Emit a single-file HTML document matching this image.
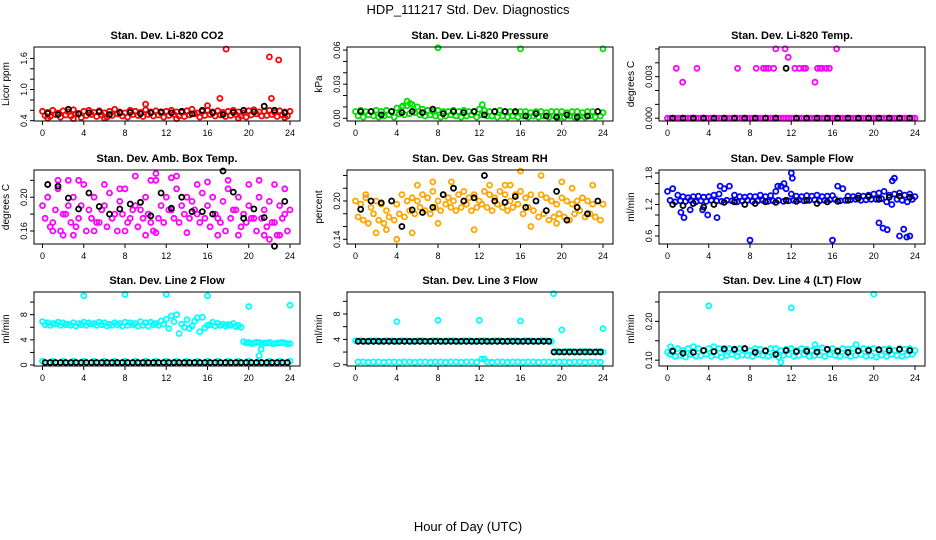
<!DOCTYPE html>
<html><head><meta charset="utf-8"><style>
body{margin:0;background:#fff}
svg{display:block;font-family:"Liberation Sans",sans-serif}
</style></head><body>
<svg id="c" width="936" height="540" viewBox="0 0 936 540">
<text x="468" y="14" text-anchor="middle" font-size="13">HDP_111217  Std. Dev. Diagnostics</text>
<text x="468" y="531" text-anchor="middle" font-size="13">Hour of Day (UTC)</text>
</svg>
<script>
// ---- data ----
const xTicks=[0,4,8,12,16,20,24];
const titles=["Stan. Dev. Li-820 CO2","Stan. Dev. Li-820 Pressure","Stan. Dev. Li-820 Temp.","Stan. Dev. Amb. Box Temp.","Stan. Dev. Gas Stream RH","Stan. Dev. Sample Flow","Stan. Dev. Line 2 Flow","Stan. Dev. Line 3 Flow","Stan. Dev. Line 4 (LT) Flow"];
const yTitles=["Licor ppm","kPa","degrees C","degrees C","percent","ml/min","ml/min","ml/min","ml/min"];
const colors=["#ff0000","#00e000","#ff00ff","#ff00ff","#ffa500","#0000ff","#00ffff","#00ffff","#00ffff"];
const yRanges=[[0.394,1.82],[-0.0024,0.0627],[-0.0002,0.00514],[0.1446,0.2322],[0.1326,0.2486],[0.448,1.857],[-0.157,11.6],[-0.2,11.47],[0.085,0.2756]];
const yTickVals=[[0.4,0.6,0.8,1.0,1.2,1.4,1.6],[0,0.01,0.02,0.03,0.04,0.05,0.06],[0,0.001,0.002,0.003,0.004,0.005],[0.16,0.18,0.2,0.22],[0.14,0.16,0.18,0.2,0.22,0.24],[0.6,0.8,1.0,1.2,1.4,1.6,1.8],[0,2,4,6,8,10],[0,2,4,6,8,10],[0.1,0.15,0.2,0.25]];
const yTickLabels=[["0.4","","","1.0","","","1.6"],["0.00","","","0.03","","","0.06"],["0.000","","","0.003","",""],["0.16","","0.20",""],["0.14","","","0.20","",""],["0.6","","","1.2","","","1.8"],["0","","4","","8",""],["0","","4","","8",""],["0.10","","0.20",""]];
// colored series A (hours 0,0.5,...,24) and B (hours 0.25,0.75,...)
const serA=[
[0.58,0.56,0.6,0.55,0.59,0.57,0.61,0.54,0.58,0.6,0.56,0.59,0.55,0.58,0.62,0.57,0.55,0.6,0.58,0.56,0.61,0.57,0.59,0.55,0.58,0.6,0.57,0.56,0.59,0.62,0.55,0.58,0.6,0.57,0.59,0.56,0.58,0.6,0.57,0.55,0.59,0.61,0.57,0.58,0.6,0.56,0.59,0.57,0.58],
[0.006,0.007,0.006,0.006,0.007,0.006,0.007,0.006,0.009,0.01,0.011,0.012,0.01,0.008,0.007,0.006,0.007,0.006,0.006,0.007,0.006,0.007,0.006,0.006,0.008,0.007,0.006,0.006,0.007,0.006,0.006,0.005,0.006,0.006,0.005,0.006,0.006,0.005,0.006,0.006,0.006,0.005,0.006,0.006,0.005,0.006,0.006,0.006,0.005],
[0,0,0,0,0,0,0,0,0,0,0,0,0,0,0,0,0,0,0,0,0,0,0,0,0,0,0,0,0,0,0,0,0,0,0,0,0,0,0,0,0,0,0,0,0,0,0,0,0],
[0.19,0.2,0.17,0.21,0.18,0.19,0.2,0.175,0.215,0.185,0.2,0.17,0.19,0.205,0.18,0.195,0.21,0.175,0.19,0.185,0.2,0.17,0.22,0.19,0.2,0.185,0.21,0.19,0.2,0.195,0.18,0.205,0.19,0.2,0.175,0.195,0.21,0.185,0.2,0.18,0.19,0.175,0.2,0.185,0.195,0.17,0.19,0.18,0.185],
[0.2,0.195,0.205,0.19,0.2,0.195,0.185,0.2,0.195,0.21,0.2,0.205,0.2,0.21,0.205,0.215,0.2,0.21,0.205,0.2,0.21,0.215,0.205,0.21,0.2,0.215,0.21,0.205,0.215,0.21,0.2,0.21,0.215,0.205,0.21,0.2,0.21,0.205,0.2,0.195,0.205,0.2,0.195,0.2,0.205,0.2,0.195,0.2,0.195],
[1.45,1.5,1.38,1.35,1.33,1.35,1.36,1.34,1.35,1.38,1.4,1.5,1.55,1.38,1.35,1.34,1.36,1.35,1.38,1.35,1.37,1.45,1.55,1.5,1.4,1.36,1.35,1.37,1.36,1.38,1.35,1.36,1.37,1.55,1.5,1.36,1.35,1.37,1.36,1.38,1.4,1.42,1.45,1.38,1.4,1.42,1.38,1.4,1.35],
[6.9,6.7,6.6,6.8,6.7,6.5,6.7,6.6,6.8,6.7,6.6,6.8,6.7,6.5,6.7,6.6,6.8,6.7,6.6,6.9,6.7,6.8,6.6,7.0,7.3,7.8,8.0,6.5,7.2,6.2,7.5,7.6,6.3,6.8,6.6,6.5,6.4,6.6,6.3,3.7,3.6,3.5,3.6,3.5,3.6,3.4,3.5,3.5,3.4],
[3.8,3.8,3.7,3.8,3.8,3.7,3.8,3.8,3.7,3.8,3.8,3.7,3.8,3.8,3.7,3.8,3.8,3.7,3.8,3.8,3.7,3.8,3.8,3.7,3.8,3.8,3.7,3.8,3.8,3.7,3.8,3.8,3.7,3.8,3.8,3.7,3.8,3.8,3.7,2.1,2.0,2.1,2.1,2.0,2.1,2.1,2.0,2.1,2.0],
[0.12,0.125,0.13,0.125,0.13,0.135,0.13,0.125,0.13,0.135,0.13,0.125,0.13,0.125,0.13,0.128,0.125,0.13,0.128,0.125,0.13,0.13,0.125,0.128,0.13,0.125,0.13,0.128,0.125,0.13,0.132,0.128,0.13,0.125,0.13,0.128,0.13,0.125,0.13,0.128,0.13,0.125,0.128,0.13,0.125,0.13,0.128,0.13,0.125]];
const serB=[
[0.5,0.48,0.52,0.47,0.51,0.49,0.53,0.46,0.5,0.52,0.48,0.51,0.47,0.5,0.53,0.49,0.47,0.52,0.5,0.48,0.52,0.49,0.51,0.47,0.5,0.52,0.49,0.48,0.51,0.53,0.47,0.5,0.52,0.49,0.51,0.48,0.5,0.52,0.49,0.47,0.51,0.53,0.49,0.5,0.52,0.48,0.51,0.49],
[0.002,0.001,0.003,0.002,0.001,0.002,0.003,0.001,0.004,0.003,0.004,0.005,0.003,0.002,0.003,0.002,0.001,0.002,0.003,0.002,0.001,0.002,0.003,0.001,0.003,0.002,0.002,0.001,0.002,0.001,0.002,0.001,0.002,0.001,0.002,0.001,0.002,0.001,0.002,0.001,0.001,0.002,0.001,0.002,0.001,0.002,0.001,0.002],
[0,0,0,0,0,0,0,0,0,0,0,0,0,0,0,0,0,0,0,0,0,0,0,0,0,0,0,0,0,0,0,0,0,0,0,0,0,0,0,0,0,0,0,0,0,0,0,0],
[0.175,0.165,0.185,0.16,0.18,0.17,0.165,0.19,0.16,0.175,0.17,0.185,0.165,0.175,0.16,0.18,0.17,0.185,0.165,0.175,0.18,0.16,0.175,0.17,0.185,0.175,0.17,0.18,0.175,0.185,0.17,0.175,0.165,0.18,0.17,0.16,0.175,0.185,0.165,0.17,0.175,0.16,0.175,0.165,0.17,0.155,0.175,0.16],
[0.175,0.17,0.165,0.18,0.17,0.165,0.175,0.17,0.18,0.175,0.185,0.18,0.19,0.185,0.18,0.19,0.185,0.195,0.19,0.185,0.19,0.195,0.185,0.19,0.195,0.19,0.185,0.195,0.19,0.185,0.19,0.195,0.18,0.19,0.185,0.175,0.18,0.17,0.175,0.18,0.175,0.17,0.18,0.185,0.175,0.18,0.175,0.17],
[1.28,1.25,1.27,1.26,1.28,1.25,1.27,1.26,1.28,1.27,1.26,1.28,1.27,1.25,1.27,1.28,1.26,1.27,1.28,1.26,1.27,1.28,1.26,1.27,1.28,1.29,1.27,1.28,1.29,1.27,1.28,1.29,1.3,1.27,1.28,1.29,1.3,1.28,1.29,1.3,1.3,1.31,1.25,1.2,1.3,1.28,1.25,1.3],
[6.4,6.3,6.5,6.3,6.4,6.3,6.2,6.4,6.3,6.5,6.3,6.4,6.2,6.3,6.4,6.2,6.3,6.4,6.2,6.3,6.2,6.4,6.3,6.5,5.8,6.9,5.0,6.0,5.8,7.0,5.3,5.9,6.4,6.2,6.3,6.2,6.3,6.1,6.0,3.5,3.4,3.6,3.3,3.5,3.4,3.5,3.6,3.4],
[0.45,0.45,0.4,0.45,0.45,0.4,0.45,0.45,0.4,0.45,0.45,0.4,0.45,0.45,0.4,0.45,0.45,0.4,0.45,0.45,0.4,0.45,0.45,0.4,0.9,0.45,0.4,0.45,0.45,0.4,0.45,0.45,0.4,0.45,0.45,0.4,0.45,0.45,0.4,0.45,0.45,0.4,0.45,0.45,0.4,0.45,0.45,0.4],
[0.115,0.11,0.112,0.108,0.115,0.11,0.112,0.115,0.11,0.113,0.108,0.112,0.115,0.11,0.113,0.112,0.11,0.115,0.112,0.11,0.113,0.108,0.112,0.115,0.11,0.112,0.115,0.11,0.112,0.113,0.11,0.115,0.112,0.11,0.113,0.11,0.112,0.115,0.11,0.112,0.108,0.113,0.11,0.115,0.112,0.11,0.113,0.115]];
// extra colored points (outliers / line-2 low row)
const outX=[
[17.8,22,22.9,17.2,22.2,10,16,0.5,3,6,13,19,23.5],
[8,16,24,5,5.3,12.3,4.6],
[0.85,1.46,2.86,6.8,8.6,9.3,9.55,9.8,10.3,10.5,11.4,11.7,12.35,12.8,13.2,13.4,14.3,14.55,14.8,15.0,15.4,15.7,16.4],
[0.5,1.5,2.5,3.5,6,7.5,9,10.5,11,12.5,13,15,16,18,20,21,22.5,23.5,1,2,3,5,8,10,11,14,17,19,21.5,22,23],
[1,2,4,6,7.5,9.3,13,15,16,18,20,21,23,3,5.5,8,14.5,19.5,17,11.5],
[1.3,1.6,3.9,4.8,5.1,8,10.7,11.3,12,12.1,16,20.5,20.9,21.3,22.5,22.9,23.2,23.5,21.8,22,2.2,3.4],
[4,8,12,16,20,24,21,21.2,0,1,2,3,4,5,6,7,8,9,10,11,12,13,14,15,16,17,18,19,20,21,22,23,24],
[4,8,12,16,19.2,20,24,12.5],
[4,12,20,0.3,11,14.3,18.3]];
const outY=[
[1.78,1.63,1.57,0.83,0.83,0.72,0.69,0.45,0.44,0.45,0.44,0.45,0.46],
[0.062,0.061,0.061,0.015,0.013,0.012,0.011],
[0.0036,0.0026,0.0036,0.0036,0.0036,0.0036,0.0036,0.0036,0.0036,0.005,0.005,0.0044,0.0036,0.0036,0.0036,0.0036,0.0026,0.0036,0.0036,0.0036,0.0036,0.0036,0.005],
[0.215,0.22,0.22,0.22,0.215,0.21,0.225,0.22,0.228,0.223,0.225,0.215,0.218,0.22,0.215,0.22,0.215,0.21,0.16,0.155,0.155,0.16,0.16,0.155,0.158,0.158,0.155,0.155,0.155,0.15,0.155],
[0.21,0.15,0.14,0.225,0.23,0.23,0.225,0.225,0.247,0.24,0.23,0.22,0.225,0.155,0.15,0.165,0.225,0.165,0.16,0.155],
[1.05,0.95,1.0,0.95,1.55,0.52,1.55,1.6,1.8,1.7,0.52,0.85,0.75,0.72,0.6,0.73,0.58,0.6,1.65,1.7,1.1,1.1],
[11,11.2,11.2,11,9.3,9.5,1.5,2.5,0.6,0.6,0.6,0.6,0.6,0.6,0.6,0.6,0.6,0.6,0.6,0.6,0.6,0.6,0.6,0.6,0.6,0.6,0.6,0.6,0.6,0.6,0.6,0.6,0.6],
[6.8,7,7,6.9,11.2,5.5,5.7,0.9],
[0.24,0.235,0.27,0.135,0.095,0.14,0.14]];
// black series (evenly spaced over 0-24)
const black=[
[0.54,0.52,0.62,0.53,0.55,0.57,0.52,0.55,0.56,0.53,0.55,0.57,0.55,0.58,0.53,0.6,0.55,0.52,0.56,0.6,0.57,0.68,0.6,0.55],
[0.006,0.006,0.003,0.006,0.005,0.006,0.005,0.008,0.004,0.006,0.005,0.006,0.003,0.006,0.006,0.006,0.002,0.004,0.002,0.001,0.003,0.001,0.002,0.006],
[0,0,0,0,0,0,0,0,0,0,0,0.0036,0,0,0,0,0,0,0,0,0,0,0,0],
[0.215,0.213,0.199,0.186,0.205,0.189,0.18,0.186,0.192,0.194,0.178,0.205,0.187,0.2,0.183,0.183,0.18,0.231,0.206,0.175,0.186,0.176,0.142,0.195],
[0.187,0.2,0.197,0.2,0.16,0.186,0.182,0.19,0.21,0.22,0.2,0.205,0.24,0.2,0.198,0.207,0.19,0.2,0.185,0.215,0.17,0.19,0.18,0.2],
[1.2,1.18,1.22,1.15,1.2,1.24,1.25,1.2,1.22,1.25,1.24,1.28,1.26,1.28,1.22,1.25,1.26,1.28,1.32,1.35,1.3,1.34,1.36,1.34],
[0.4,0.4,0.4,0.4,0.4,0.4,0.4,0.4,0.4,0.4,0.4,0.4,0.4,0.4,0.4,0.4,0.4,0.4,0.4,0.4,0.4,0.4,0.4,0.4,0.4,0.4,0.4,0.4,0.4,0.4,0.4,0.4,0.4,0.4,0.4,0.4,0.4,0.4,0.4,0.4,0.4,0.4,0.4,0.4,0.4,0.4,0.4,0.4],
[3.7,3.7,3.7,3.7,3.7,3.7,3.7,3.7,3.7,3.7,3.7,3.7,3.7,3.7,3.7,3.7,3.7,3.7,3.7,3.7,3.7,3.7,3.7,3.7,3.7,3.7,3.7,3.7,3.7,3.7,3.7,3.7,3.7,3.7,3.7,3.7,3.7,3.7,2.0,2.0,2.0,2.0,2.0,2.0,2.0,2.0,2.0,2.0],
[0.123,0.118,0.12,0.125,0.122,0.129,0.128,0.13,0.12,0.124,0.115,0.125,0.122,0.123,0.121,0.128,0.123,0.12,0.124,0.125,0.127,0.125,0.128,0.125]];

// ---- drawing ----
const NS="http://www.w3.org/2000/svg";
const svg=document.getElementById('c');
function mk(tag,attrs,parent){const e=document.createElementNS(NS,tag);for(const k in attrs)e.setAttribute(k,attrs[k]);(parent||svg).appendChild(e);return e;}
const colLeft=[34,347,659], rowTop=[47,170,292], boxW=266, boxH=74;
for(let p=0;p<9;p++){
  const L=colLeft[p%3], T=rowTop[Math.floor(p/3)], B=T+boxH, R=L+boxW;
  const g=mk('g',{});
  
  
  const xs=h=>L+8.5+h*(247.5/24);
  const [y0,y1]=yRanges[p];
  const ys=v=>B-(v-y0)/(y1-y0)*boxH;
  const t=mk('text',{x:(L+R)/2,y:T-8,'text-anchor':'middle','font-size':'11','font-weight':'bold'},g);
  t.textContent=titles[p];
  
  
  const yt=mk('text',{transform:`translate(${L-25},${(T+B)/2}) rotate(-90)`,'text-anchor':'middle','font-size':'10'},g);
  yt.textContent=yTitles[p];
  
  
  // points
  const pts=mk('g',{fill:'none','stroke-width':'1.8'},g);
  
  
  const dot=(h,v,c)=>{mk('circle',{cx:xs(h).toFixed(1),cy:ys(v).toFixed(1),r:'2.5',stroke:c},pts);};
  serA[p].forEach((v,i)=>dot(i*0.5,v,colors[p]));
  serB[p].forEach((v,i)=>dot(i*0.5+0.25,v,colors[p]));
  outX[p].forEach((h,i)=>dot(h,outY[p][i],colors[p]));
  const n=black[p].length;
  black[p].forEach((v,i)=>dot((i+0.5)*24/n,v,'#000'));
  // box
  const box=mk('rect',{x:L,y:T,width:boxW,height:boxH,fill:'none',stroke:'#000','stroke-width':'1'},g);
  
  
  // x axis
  xTicks.forEach(h=>{
    mk('line',{x1:xs(h),x2:xs(h),y1:B,y2:B+4,stroke:'#000'},g);
    const tl=mk('text',{x:xs(h),y:B+15,'text-anchor':'middle','font-size':'9'},g);
    tl.textContent=h;
    
    
  });
  mk('line',{x1:xs(0),x2:xs(24),y1:B,y2:B,stroke:'#000'},g);
  // y axis
  yTickVals[p].forEach((v,i)=>{
    const y=ys(v);
    mk('line',{x1:L-4,x2:L,y1:y,y2:y,stroke:'#000'},g);
    if(yTickLabels[p][i]){
      const tl=mk('text',{transform:`translate(${L-7},${y}) rotate(-90)`,'text-anchor':'middle','font-size':'9'},g);
      tl.textContent=yTickLabels[p][i];
      
      
    }
  });
}
</script>
</body></html>
